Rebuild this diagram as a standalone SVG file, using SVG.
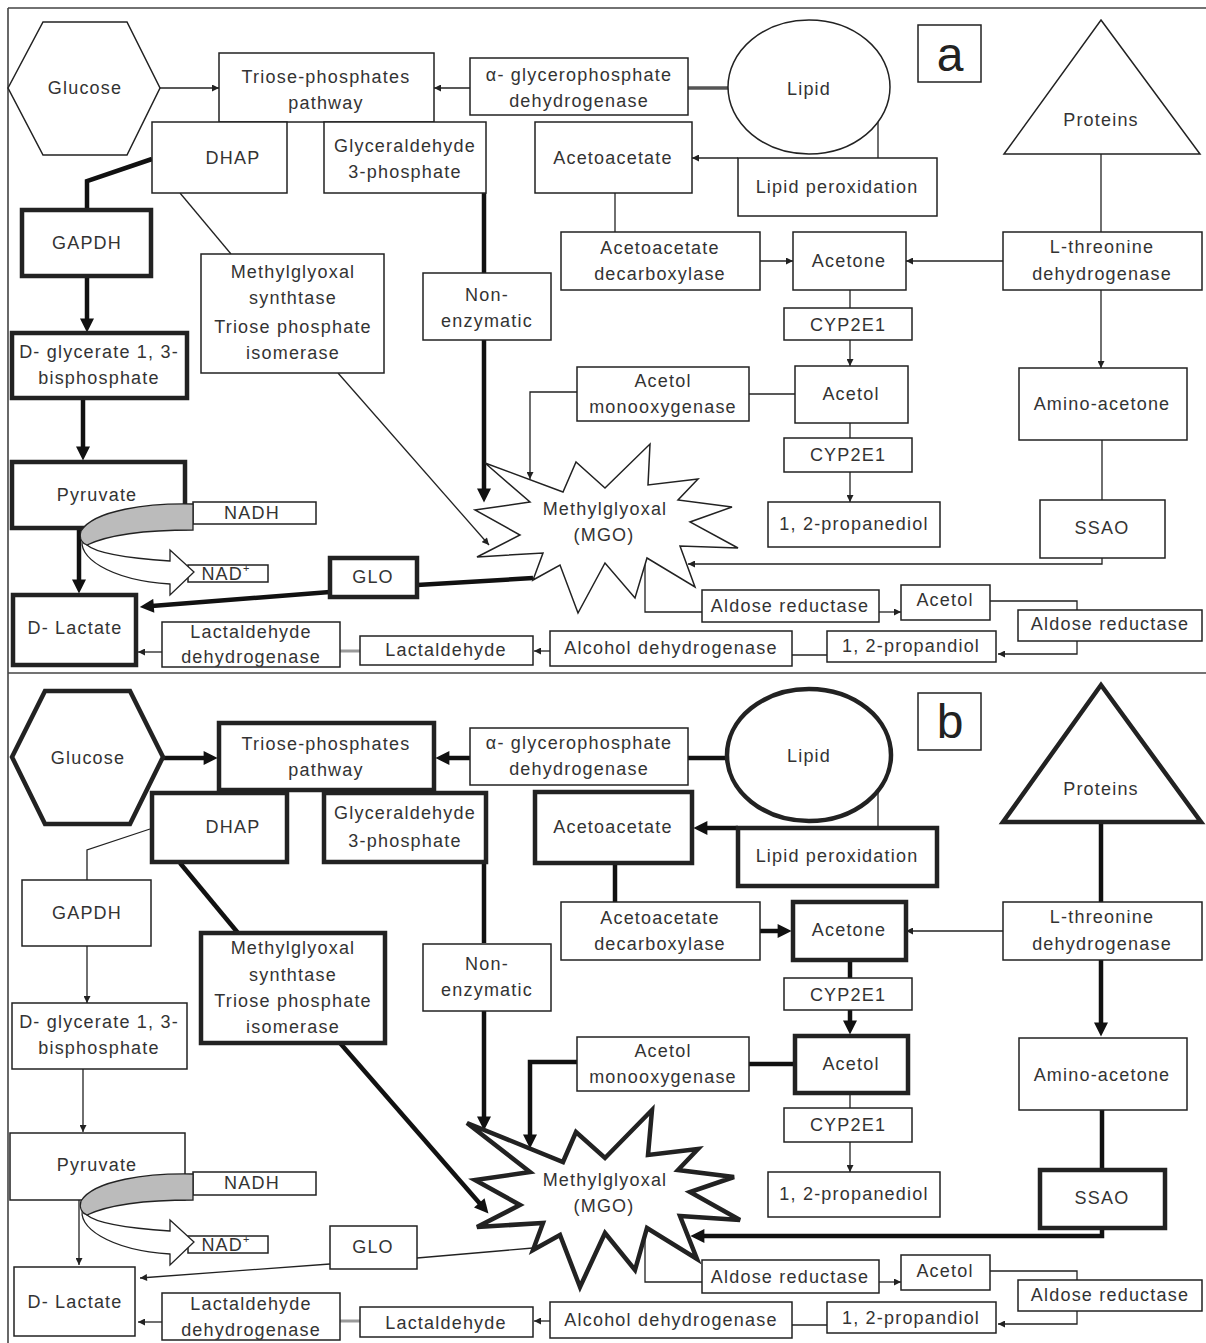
<svg xmlns="http://www.w3.org/2000/svg" width="1206" height="1343" viewBox="0 0 1206 1343">
<style>
  .bx{fill:#fff;stroke:#222;stroke-width:1.5}
  .hv{stroke-width:4.5}
  .t{font-family:"Liberation Sans",Arial,sans-serif;font-size:18px;fill:#333;text-anchor:middle;dominant-baseline:central;letter-spacing:1.2px}
  .tag{font-family:"Liberation Sans",Arial,sans-serif;font-size:48px;fill:#222;text-anchor:middle}
  .ln{fill:none;stroke:#222;stroke-width:1.3}
  .lh{fill:none;stroke:#111;stroke-width:4.5}
  .lg{fill:none;stroke:#999;stroke-width:3}
  .lm{fill:none;stroke:#555;stroke-width:3.5}
  .frame{fill:none;stroke:#444;stroke-width:1.6}
  .nad{fill:#fff;stroke:#222;stroke-width:1.3}
  .nadh{fill:#bbb;stroke:#222;stroke-width:1.3}
</style>
<defs>
  <marker id="ah-s" viewBox="0 0 10 10" refX="10" refY="5" markerWidth="8" markerHeight="7" markerUnits="userSpaceOnUse" orient="auto">
    <path d="M0,0 L10,5 L0,10 Z" fill="#222"/>
  </marker>
  <marker id="ah-l" viewBox="0 0 10 10" refX="6" refY="5" markerWidth="16" markerHeight="14" markerUnits="userSpaceOnUse" orient="auto">
    <path d="M0,0 L10,5 L0,10 Z" fill="#111"/>
  </marker>
</defs>
<rect width="1206" height="1343" fill="#fff"/>

<!-- outer frame and panel divider -->
<g id="frame">
  <path class="frame" d="M8,8 H1206 M8,8 V1343"/>
  <path class="frame" stroke-width="2" d="M8,673 H1206"/>
</g>

<!-- ===================== panel a ===================== -->
<g id="panel-a">
  <g id="a-connectors">
    <path class="ln" marker-end="url(#ah-s)" d="M160,88 H219"/>
    <path class="ln" marker-end="url(#ah-s)" d="M470,88 H434"/>
    <path class="lm" d="M688,88 H728"/>
    <path class="ln" d="M878,122 V158"/>
    <path class="ln" marker-end="url(#ah-s)" d="M738,158 H692"/>
    <path class="ln" d="M615,193 V232"/>
    <path class="ln" marker-end="url(#ah-s)" d="M760,261 H793"/>
    <path class="ln" marker-end="url(#ah-s)" d="M1003,261 H906"/>
    <path class="ln" d="M1101,154 V232"/>
    <path class="ln" marker-end="url(#ah-s)" d="M1101,290 V368"/>
    <path class="ln" d="M850,290 V308"/>
    <path class="ln" marker-end="url(#ah-s)" d="M850,340 V366"/>
    <path class="ln" d="M795,394 H749"/>
    <path class="ln" marker-end="url(#ah-s)" d="M577,392 H530 V479"/>
    <path class="ln" d="M850,423 V438"/>
    <path class="ln" marker-end="url(#ah-s)" d="M850,472 V502"/>
    <path class="ln" d="M1102,440 V500"/>
    <path class="ln" stroke="#555" marker-end="url(#ah-s)" d="M1102,558 V564 H688"/>
    <path class="ln" d="M180,193 L231,254"/>
    <path class="ln" marker-end="url(#ah-s)" d="M338,373 L489,545"/>
    <path class="ln" d="M645,557 V612 H702"/>
    <path class="ln" marker-end="url(#ah-s)" d="M879,612 H901"/>
    <path class="ln" marker-end="url(#ah-s)" d="M990,601 H1077 V654 H998"/>
    <path class="ln" d="M827,655 H792"/>
    <path class="ln" marker-end="url(#ah-s)" d="M550,651 H534"/>
    <path class="lg" d="M360,651 H340"/>
    <path class="ln" stroke="#666" marker-end="url(#ah-s)" d="M162,652 H138"/>
    <path class="lh" d="M152,159 L87,181 V210"/>
    <path class="lh" marker-end="url(#ah-l)" d="M87,276 V327"/>
    <path class="lh" marker-end="url(#ah-l)" d="M83,398 V455"/>
    <path class="lh" marker-end="url(#ah-l)" d="M79,528 V588"/>
    <path class="lh" d="M484,193 V273"/>
    <path class="lh" marker-end="url(#ah-l)" d="M484,340 V497"/>
    <path class="lh" d="M533,578 L417,585"/>
    <path class="lh" marker-end="url(#ah-l)" d="M330,592 L145.4,606.5"/>
  </g>

  <g id="a-glucose"><polygon class="bx" points="8,88 43,22 127,22 160,88 127,155 43,155"/><text class="t" x="85" y="88">Glucose</text></g>
  <g id="a-lipid"><ellipse class="bx" cx="809" cy="87" rx="81" ry="67"/><text class="t" x="809" y="89">Lipid</text></g>
  <g id="a-proteins"><polygon class="bx" points="1101,20 1200,154 1004,154"/><text class="t" x="1101" y="120">Proteins</text></g>
  <g id="a-tag"><rect class="bx" x="918" y="25" width="63" height="57"/><text class="tag" x="950" y="71">a</text></g>
  <g id="a-triose"><rect class="bx" x="219" y="53" width="215" height="69"/><text class="t" x="326" y="77">Triose-phosphates</text><text class="t" x="326" y="103">pathway</text></g>
  <g id="a-agpdh"><rect class="bx" x="470" y="58" width="218" height="57"/><text class="t" x="579" y="75">α- glycerophosphate</text><text class="t" x="579" y="101">dehydrogenase</text></g>
  <g id="a-dhap"><rect class="bx" x="152" y="122" width="135" height="71"/><text class="t" x="233" y="158">DHAP</text></g>
  <g id="a-g3p"><rect class="bx" x="324" y="122" width="162" height="71"/><text class="t" x="405" y="146">Glyceraldehyde</text><text class="t" x="405" y="172">3-phosphate</text></g>
  <g id="a-acetoacetate"><rect class="bx" x="535" y="122" width="157" height="71"/><text class="t" x="613" y="158">Acetoacetate</text></g>
  <g id="a-lipidperox"><rect class="bx" x="738" y="158" width="199" height="58"/><text class="t" x="837" y="187">Lipid peroxidation</text></g>
  <g id="a-gapdh"><rect class="bx hv" x="22" y="210" width="129" height="66"/><text class="t" x="87" y="243">GAPDH</text></g>
  <g id="a-mgs"><rect class="bx" x="201" y="254" width="183" height="119"/><text class="t" x="293" y="272">Methylglyoxal</text><text class="t" x="293" y="298">synthtase</text><text class="t" x="293" y="327">Triose phosphate</text><text class="t" x="293" y="353">isomerase</text></g>
  <g id="a-nonenz"><rect class="bx" x="423" y="273" width="128" height="67"/><text class="t" x="487" y="295">Non-</text><text class="t" x="487" y="321">enzymatic</text></g>
  <g id="a-decarb"><rect class="bx" x="561" y="232" width="199" height="58"/><text class="t" x="660" y="248">Acetoacetate</text><text class="t" x="660" y="274">decarboxylase</text></g>
  <g id="a-acetone"><rect class="bx" x="793" y="232" width="113" height="58"/><text class="t" x="849" y="261">Acetone</text></g>
  <g id="a-lthr"><rect class="bx" x="1003" y="232" width="199" height="58"/><text class="t" x="1102" y="247">L-threonine</text><text class="t" x="1102" y="274">dehydrogenase</text></g>
  <g id="a-cyp1"><rect class="bx" x="784" y="308" width="128" height="32"/><text class="t" x="848" y="325">CYP2E1</text></g>
  <g id="a-monoox"><rect class="bx" x="577" y="367" width="172" height="54"/><text class="t" x="663" y="381">Acetol</text><text class="t" x="663" y="407">monooxygenase</text></g>
  <g id="a-acetol"><rect class="bx" x="795" y="366" width="113" height="57"/><text class="t" x="851" y="394">Acetol</text></g>
  <g id="a-cyp2"><rect class="bx" x="784" y="438" width="128" height="34"/><text class="t" x="848" y="455">CYP2E1</text></g>
  <g id="a-amino"><rect class="bx" x="1019" y="368" width="168" height="72"/><text class="t" x="1102" y="404">Amino-acetone</text></g>
  <g id="a-dgly"><rect class="bx hv" x="12" y="333" width="175" height="65"/><text class="t" x="99" y="352">D- glycerate 1, 3-</text><text class="t" x="99" y="378">bisphosphate</text></g>
  <g id="a-pyruvate"><rect class="bx hv" x="12" y="462" width="173" height="66"/><text class="t" x="97" y="495">Pyruvate</text></g>
  <g id="a-nadh"><rect class="bx" x="193" y="502" width="123" height="22"/><text class="t" x="252" y="513">NADH</text></g>
  <g id="a-mgo"><polygon class="bx" points="485,463 563,492 576,462 605,488 650,444 648,485 698,479 678,500 732,507 690,522 738,548 680,546 695,587 647,558 635,598 605,563 578,613 560,565 533,580 543,553 477,557 520,535 475,510 530,502"/><text class="t" x="605" y="509">Methylglyoxal</text><text class="t" x="604" y="535">(MGO)</text></g>
  <g id="a-propanediol"><rect class="bx" x="768" y="502" width="172" height="45"/><text class="t" x="854" y="524">1, 2-propanediol</text></g>
  <g id="a-ssao"><rect class="bx" x="1040" y="500" width="125" height="58"/><text class="t" x="1102" y="528">SSAO</text></g>
  <g id="a-nad"><rect class="bx" x="188" y="565" width="80" height="17"/><text class="t" x="226" y="574">NAD<tspan font-size="11" dy="-6">+</tspan></text></g>
  <g id="a-glo"><rect class="bx hv" x="330" y="558" width="87" height="39"/><text class="t" x="373" y="577">GLO</text></g>
  <g id="a-ar1"><rect class="bx" x="702" y="590" width="177" height="32"/><text class="t" x="790" y="606">Aldose reductase</text></g>
  <g id="a-acetol2"><rect class="bx" x="901" y="585" width="89" height="35"/><text class="t" x="945" y="600">Acetol</text></g>
  <g id="a-ar2"><rect class="bx" x="1018" y="610" width="184" height="31"/><text class="t" x="1110" y="624">Aldose reductase</text></g>
  <g id="a-dlactate"><rect class="bx hv" x="13" y="595" width="123" height="70"/><text class="t" x="75" y="628">D- Lactate</text></g>
  <g id="a-lactdh"><rect class="bx" x="162" y="622" width="178" height="45"/><text class="t" x="251" y="632">Lactaldehyde</text><text class="t" x="251" y="657">dehydrogenase</text></g>
  <g id="a-lactaldehyde"><rect class="bx" x="360" y="636" width="173" height="29"/><text class="t" x="446" y="650">Lactaldehyde</text></g>
  <g id="a-alcdh"><rect class="bx" x="550" y="631" width="242" height="35"/><text class="t" x="671" y="648">Alcohol dehydrogenase</text></g>
  <g id="a-propandiol"><rect class="bx" x="827" y="631" width="169" height="31"/><text class="t" x="911" y="646">1, 2-propandiol</text></g>

  <!-- NADH -> NAD+ cofactor turnover, drawn over the pyruvate box -->
  <g id="a-cofactor">
    <path class="nad" d="M83,538 C76,556 108,580 170,584 L170,595 L194,572 L170,550 L170,561 C125,558 96,553 87,545 Z"/>
    <path class="nadh" d="M193,504 C148,503 94,510 81,531 C79,538 82,543 87,545 C110,534 150,530 193,530 Z"/>
  </g>
</g>

<!-- ===================== panel b ===================== -->
<g id="panel-b" transform="translate(0,670)">
  <g id="b-connectors">
    <path class="lh" marker-end="url(#ah-l)" d="M163,88 H212"/>
    <path class="lh" marker-end="url(#ah-l)" d="M470,88 H441"/>
    <path class="lh" d="M688,88 H727"/>
    <path class="ln" d="M878,122 V158"/>
    <path class="lh" marker-end="url(#ah-l)" d="M738,158 H699"/>
    <path class="lh" d="M615,193 V232"/>
    <path class="lh" marker-end="url(#ah-l)" d="M760,261 H786"/>
    <path class="ln" marker-end="url(#ah-s)" d="M1003,261 H906"/>
    <path class="lh" d="M1101,154 V232"/>
    <path class="lh" marker-end="url(#ah-l)" d="M1101,290 V361"/>
    <path class="lh" d="M850,290 V308"/>
    <path class="lh" marker-end="url(#ah-l)" d="M850,340 V359"/>
    <path class="lh" d="M795,394 H749"/>
    <path class="lh" marker-end="url(#ah-l)" d="M577,392 H530 V473"/>
    <path class="ln" d="M850,423 V438"/>
    <path class="ln" marker-end="url(#ah-s)" d="M850,472 V502"/>
    <path class="lh" d="M1102,440 V500"/>
    <path class="lh" marker-end="url(#ah-l)" d="M1102,558 V566 H696"/>
    <path class="lh" d="M180,193 L238,263"/>
    <path class="lh" marker-end="url(#ah-l)" d="M340,373 L484.8,539.2"/>
    <path class="ln" d="M645,557 V612 H702"/>
    <path class="ln" marker-end="url(#ah-s)" d="M879,612 H901"/>
    <path class="ln" marker-end="url(#ah-s)" d="M990,601 H1077 V654 H998"/>
    <path class="ln" d="M827,655 H792"/>
    <path class="ln" marker-end="url(#ah-s)" d="M550,651 H534"/>
    <path class="lg" d="M360,651 H340"/>
    <path class="ln" stroke="#666" marker-end="url(#ah-s)" d="M162,652 H138"/>
    <path class="ln" d="M150,159 L87,180 V210"/>
    <path class="ln" marker-end="url(#ah-s)" d="M87,276 V333"/>
    <path class="ln" marker-end="url(#ah-s)" d="M83,399 V462"/>
    <path class="ln" marker-end="url(#ah-s)" d="M79,530 V595"/>
    <path class="lh" d="M484,193 V273"/>
    <path class="lh" marker-end="url(#ah-l)" d="M484,340 V455"/>
    <path class="ln" stroke="#555" d="M533,578 L417,588"/>
    <path class="ln" stroke="#555" marker-end="url(#ah-s)" d="M330,594 L140,608"/>
  </g>

  <g id="b-glucose"><polygon class="bx hv" points="12,87 45,21 130,21 163,87 130,154 45,154"/><text class="t" x="88" y="88">Glucose</text></g>
  <g id="b-lipid"><ellipse class="bx hv" cx="809" cy="85" rx="82" ry="66"/><text class="t" x="809" y="86">Lipid</text></g>
  <g id="b-proteins"><polygon class="bx hv" points="1101,15 1201,152 1003,152"/><text class="t" x="1101" y="119">Proteins</text></g>
  <g id="b-tag"><rect class="bx" x="918" y="23" width="63" height="57"/><text class="tag" x="950" y="68">b</text></g>
  <g id="b-triose"><rect class="bx hv" x="219" y="53" width="215" height="67"/><text class="t" x="326" y="74">Triose-phosphates</text><text class="t" x="326" y="100">pathway</text></g>
  <g id="b-agpdh"><rect class="bx" x="470" y="58" width="218" height="57"/><text class="t" x="579" y="73">α- glycerophosphate</text><text class="t" x="579" y="99">dehydrogenase</text></g>
  <g id="b-dhap"><rect class="bx hv" x="152" y="123" width="135" height="69"/><text class="t" x="233" y="157">DHAP</text></g>
  <g id="b-g3p"><rect class="bx hv" x="324" y="123" width="162" height="69"/><text class="t" x="405" y="143">Glyceraldehyde</text><text class="t" x="405" y="171">3-phosphate</text></g>
  <g id="b-acetoacetate"><rect class="bx hv" x="535" y="122" width="157" height="71"/><text class="t" x="613" y="157">Acetoacetate</text></g>
  <g id="b-lipidperox"><rect class="bx hv" x="738" y="158" width="199" height="58"/><text class="t" x="837" y="186">Lipid peroxidation</text></g>
  <g id="b-gapdh"><rect class="bx" x="22" y="210" width="129" height="66"/><text class="t" x="87" y="243">GAPDH</text></g>
  <g id="b-mgs"><rect class="bx hv" x="201" y="263" width="184" height="110"/><text class="t" x="293" y="278">Methylglyoxal</text><text class="t" x="293" y="305">synthtase</text><text class="t" x="293" y="331">Triose phosphate</text><text class="t" x="293" y="357">isomerase</text></g>
  <g id="b-nonenz"><rect class="bx" x="423" y="274" width="128" height="67"/><text class="t" x="487" y="294">Non-</text><text class="t" x="487" y="320">enzymatic</text></g>
  <g id="b-decarb"><rect class="bx" x="561" y="232" width="199" height="58"/><text class="t" x="660" y="248">Acetoacetate</text><text class="t" x="660" y="274">decarboxylase</text></g>
  <g id="b-acetone"><rect class="bx hv" x="793" y="232" width="113" height="58"/><text class="t" x="849" y="260">Acetone</text></g>
  <g id="b-lthr"><rect class="bx" x="1003" y="232" width="199" height="58"/><text class="t" x="1102" y="247">L-threonine</text><text class="t" x="1102" y="274">dehydrogenase</text></g>
  <g id="b-cyp1"><rect class="bx" x="784" y="308" width="128" height="32"/><text class="t" x="848" y="325">CYP2E1</text></g>
  <g id="b-monoox"><rect class="bx" x="577" y="367" width="172" height="54"/><text class="t" x="663" y="381">Acetol</text><text class="t" x="663" y="407">monooxygenase</text></g>
  <g id="b-acetol"><rect class="bx hv" x="795" y="366" width="113" height="57"/><text class="t" x="851" y="394">Acetol</text></g>
  <g id="b-cyp2"><rect class="bx" x="784" y="438" width="128" height="34"/><text class="t" x="848" y="455">CYP2E1</text></g>
  <g id="b-amino"><rect class="bx" x="1019" y="368" width="168" height="72"/><text class="t" x="1102" y="405">Amino-acetone</text></g>
  <g id="b-dgly"><rect class="bx" x="12" y="333" width="175" height="66"/><text class="t" x="99" y="352">D- glycerate 1, 3-</text><text class="t" x="99" y="378">bisphosphate</text></g>
  <g id="b-pyruvate"><rect class="bx" x="10" y="463" width="175" height="67"/><text class="t" x="97" y="495">Pyruvate</text></g>
  <g id="b-nadh"><rect class="bx" x="193" y="502" width="123" height="23"/><text class="t" x="252" y="513">NADH</text></g>
  <g id="b-mgo"><polygon class="bx hv" points="467,453 563,492 576,462 605,488 652,440 648,485 698,479 678,500 734,507 690,522 740,550 680,546 697,589 647,558 635,600 605,563 580,617 560,565 533,580 543,553 477,557 520,535 475,510 530,502"/><text class="t" x="605" y="510">Methylglyoxal</text><text class="t" x="604" y="536">(MGO)</text></g>
  <g id="b-propanediol"><rect class="bx" x="768" y="502" width="172" height="45"/><text class="t" x="854" y="524">1, 2-propanediol</text></g>
  <g id="b-ssao"><rect class="bx hv" x="1040" y="500" width="125" height="58"/><text class="t" x="1102" y="528">SSAO</text></g>
  <g id="b-nad"><rect class="bx" x="188" y="566" width="80" height="17"/><text class="t" x="226" y="575">NAD<tspan font-size="11" dy="-6">+</tspan></text></g>
  <g id="b-glo"><rect class="bx" x="330" y="556" width="87" height="43"/><text class="t" x="373" y="577">GLO</text></g>
  <g id="b-ar1"><rect class="bx" x="702" y="590" width="177" height="33"/><text class="t" x="790" y="607">Aldose reductase</text></g>
  <g id="b-acetol2"><rect class="bx" x="901" y="585" width="89" height="35"/><text class="t" x="945" y="601">Acetol</text></g>
  <g id="b-ar2"><rect class="bx" x="1018" y="610" width="184" height="31"/><text class="t" x="1110" y="625">Aldose reductase</text></g>
  <g id="b-dlactate"><rect class="bx" x="14" y="597" width="121" height="69"/><text class="t" x="75" y="632">D- Lactate</text></g>
  <g id="b-lactdh"><rect class="bx" x="162" y="623" width="178" height="47"/><text class="t" x="251" y="634">Lactaldehyde</text><text class="t" x="251" y="660">dehydrogenase</text></g>
  <g id="b-lactaldehyde"><rect class="bx" x="360" y="637" width="173" height="30"/><text class="t" x="446" y="653">Lactaldehyde</text></g>
  <g id="b-alcdh"><rect class="bx" x="550" y="632" width="242" height="36"/><text class="t" x="671" y="650">Alcohol dehydrogenase</text></g>
  <g id="b-propandiol"><rect class="bx" x="827" y="632" width="169" height="31"/><text class="t" x="911" y="648">1, 2-propandiol</text></g>

  <!-- NADH -> NAD+ cofactor turnover, drawn over the pyruvate box -->
  <g id="b-cofactor">
    <path class="nad" d="M83,538 C76,556 108,580 170,584 L170,595 L194,572 L170,550 L170,561 C125,558 96,553 87,545 Z"/>
    <path class="nadh" d="M193,504 C148,503 94,510 81,531 C79,538 82,543 87,545 C110,534 150,530 193,530 Z"/>
  </g>
</g>
</svg>
